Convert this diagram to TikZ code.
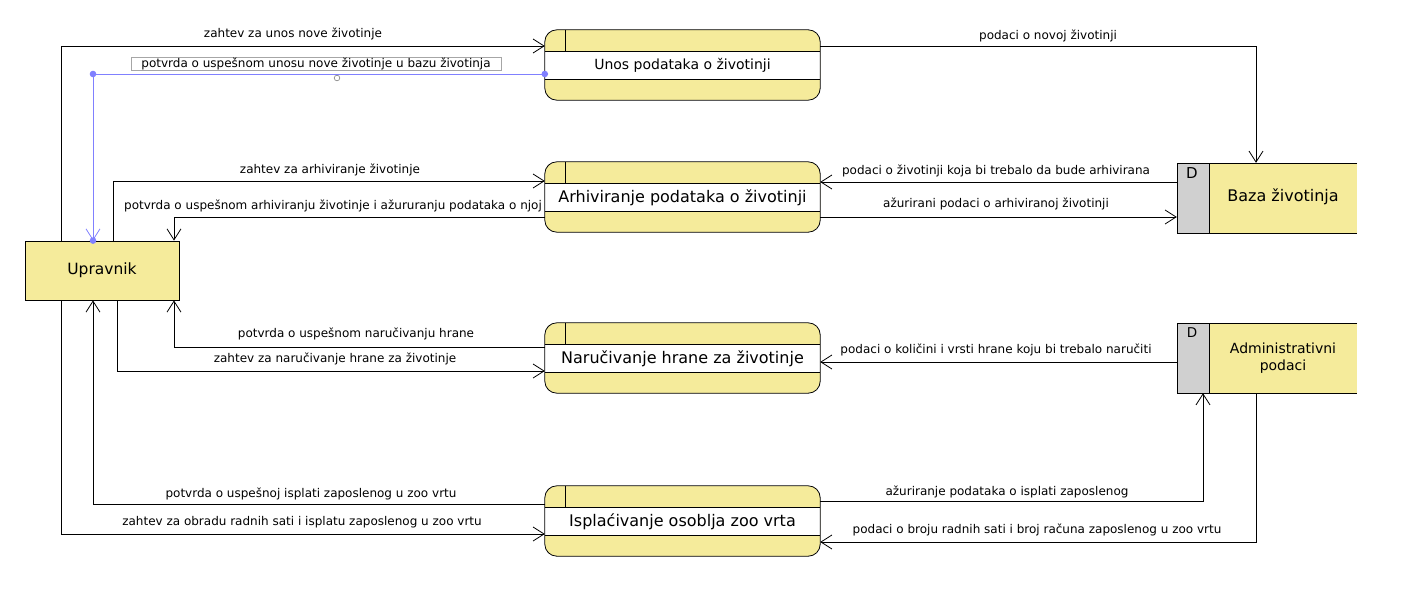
\documentclass[tikz,border=0pt]{standalone}
\usepackage{fontspec}
\setmainfont{DejaVu Sans}
\usetikzlibrary{arrows.meta}
\definecolor{pyel}{RGB}{245,235,155}
\definecolor{pgray}{RGB}{208,208,208}
\definecolor{pblue}{RGB}{128,128,255}
\newcommand\mkproc[4]{%
  \node[procshape] (#1) at (682.5,#2+35) {};
  \fill[white] (545,#2+21) rectangle (820,#2+49);
  \draw[thinline] (545,#2+21) -- (820,#2+21) (545,#2+49) -- (820,#2+49) (565,#2) -- (565,#2+21);
  \draw[thinline,rounded corners=12pt] (#1.north west) rectangle (#1.south east);
  \node[font=#4] (#1t) at (682.5,#2+35.5) {#3};
}
\newcommand\mkstore[6]{%
  \node[minimum width=180pt,minimum height=70pt,inner sep=0pt] (#1) at (1267,#2+35) {};
  \fill[pgray] (1177,#2) rectangle (1209,#2+70);
  \fill[pyel] (1209,#2) rectangle (1357,#2+70);
  \draw[thinline] (1357,#2) -- (1177,#2) -- (1177,#2+70) -- (1357,#2+70) (1209,#2) -- (1209,#2+70);
  \node[font=#6] (#1d) at (1192,#2+10) {D};
  \node[font=#4,align=center] (#1t) at (1283,#2+#5) {#3};
}
\begin{document}
\begin{tikzpicture}[x=1pt,y=-1pt,
  thinline/.style={draw=black,line width=0.8pt},
  procshape/.style={minimum width=275pt,minimum height=70pt,inner sep=0pt,fill=pyel,rounded corners=12pt},
  flow/.style={draw=black,line width=0.8pt,-{Straight Barb[length=11pt,width=14pt,line width=0.8pt]}},
  bflow/.style={draw=pblue,line width=0.8pt,-{Straight Barb[length=11pt,width=14pt,line width=0.8pt]}},
  lbl/.style={font=\fontsize{12}{14}\selectfont,inner sep=1pt}]
\useasboundingbox (0,0) rectangle (1418,591);
\fill[white] (0,0) rectangle (1418,591);

% processes
\mkproc{p1}{30}{Unos podataka o životinji}{\fontsize{14}{16}\selectfont}
\mkproc{p2}{162}{Arhiviranje podataka o životinji}{\fontsize{16}{18}\selectfont}
\mkproc{p3}{323}{Naručivanje hrane za životinje}{\fontsize{16}{18}\selectfont}
\mkproc{p4}{486}{Isplaćivanje osoblja zoo vrta}{\fontsize{16}{18}\selectfont}

% stores
\mkstore{baza}{163}{Baza životinja}{\fontsize{16}{18}\selectfont}{34}{\fontsize{15}{17}\selectfont}
\mkstore{admin}{323}{Administrativni\\podaci}{\fontsize{14}{17}\selectfont}{35}{\fontsize{13.5}{16}\selectfont}

% external entity
\node[draw=black,line width=0.8pt,fill=pyel,minimum width=154pt,minimum height=59pt,inner sep=0pt,font=\fontsize{15.5}{18}\selectfont] (up) at (102,270.5) {Upravnik};

% flows
\draw[flow] (61,0 |- up.north) |- (p1.west |- 0,46);
\draw[flow] (p1.east |- 0,46) -| (1256,0 |- baza.north);
\draw[flow] (113,0 |- up.north) |- (p2.west |- 0,181);
\draw[flow] (p2.west |- 0,217) -| (174,0 |- up.north);
\draw[flow] (baza.west |- 0,182) -- (p2.east |- 0,182);
\draw[flow] (p2.east |- 0,217) -- (baza.west |- 0,217);
\draw[flow] (p3.west |- 0,347) -| (174,0 |- up.south);
\draw[flow] (117,0 |- up.south) |- (p3.west |- 0,371);
\draw[flow] (admin.west |- 0,362) -- (p3.east |- 0,362);
\draw[flow] (p4.west |- 0,504) -| (93,0 |- up.south);
\draw[flow] (61,0 |- up.south) |- (p4.west |- 0,534);
\draw[flow] (p4.east |- 0,501) -| (1203,0 |- admin.south);
\draw[flow] (1256,0 |- admin.south) |- (p4.east |- 0,542);

% blue selected flow
\coordinate (bc) at (93,74);
\draw[bflow] (p1.west |- 0,74) -- (bc) -- (93,0 |- up.north);
\fill[pblue] (p1.west |- 0,74) circle (3.3pt);
\fill[pblue] (bc) circle (3.3pt);
\fill[pblue] (93,0 |- up.north) circle (3.3pt);
\draw[gray,line width=0.6pt,fill=white] (337,78) circle (2.8pt);
\node[lbl,draw=black!35,line width=0.6pt,minimum width=370pt,minimum height=13pt,inner sep=0pt] (l2) at (316,64) {potvrda o uspešnom unosu nove životinje u bazu životinja};

% labels
\node[lbl] (l1) at (293,34) {zahtev za unos nove životinje};
\node[lbl] (l3) at (1048,36) {podaci o novoj životinji};
\node[lbl] (l4) at (330,170) {zahtev za arhiviranje životinje};
\node[lbl] (l5) at (333,206) {potvrda o uspešnom arhiviranju životinje i ažururanju podataka o njoj};
\node[lbl] (l6) at (996,171) {podaci o životinji koja bi trebalo da bude arhivirana};
\node[lbl] (l7) at (996,204) {ažurirani podaci o arhiviranoj životinji};
\node[lbl] (l8) at (356,334) {potvrda o uspešnom naručivanju hrane};
\node[lbl] (l9) at (335,359) {zahtev za naručivanje hrane za životinje};
\node[lbl] (l10) at (996,350) {podaci o količini i vrsti hrane koju bi trebalo naručiti};
\node[lbl] (l11) at (311,494) {potvrda o uspešnoj isplati zaposlenog u zoo vrtu};
\node[lbl] (l12) at (302,522) {zahtev za obradu radnih sati i isplatu zaposlenog u zoo vrtu};
\node[lbl] (l13) at (1007,492) {ažuriranje podataka o isplati zaposlenog};
\node[lbl] (l14) at (1037,530) {podaci o broju radnih sati i broj računa zaposlenog u zoo vrtu};
\end{tikzpicture}
\end{document}
